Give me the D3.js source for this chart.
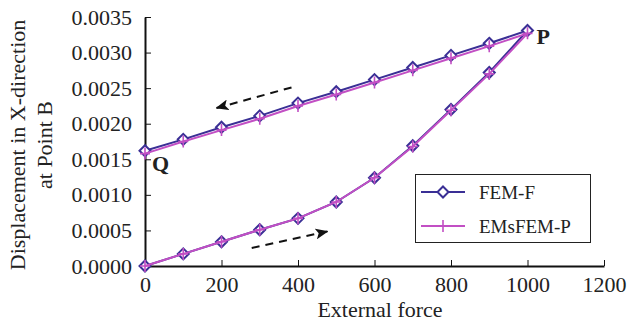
<!DOCTYPE html>
<html>
<head>
<meta charset="utf-8">
<script src="https://cdn.jsdelivr.net/npm/d3@7/dist/d3.min.js"></script>
<style>
  html, body { margin: 0; padding: 0; background: #fff; }
  svg text { font-family: "Liberation Serif", "DejaVu Serif", serif; fill: #222; }
</style>
</head>
<body>
<svg id="chart" width="627" height="323"></svg>
<script>
// External force steps: loading 0 -> 1000, then unloading 1000 -> 0
const forces = [0, 100, 200, 300, 400, 500, 600, 700, 800, 900, 1000,
                900, 800, 700, 600, 500, 400, 300, 200, 100, 0];

// Displacement in X-direction at point B
const femF = [0.0000, 0.00017, 0.00034, 0.00051, 0.00067, 0.00090, 0.00124, 0.00169, 0.00220, 0.00272, 0.00331,
              0.00313, 0.00296, 0.00279, 0.00262, 0.00245, 0.00229, 0.00211, 0.00195, 0.00178, 0.00162];
const emsfemP = [0.0000, 0.00017, 0.00034, 0.00051, 0.00067, 0.00090, 0.00124, 0.00168, 0.00219, 0.00270, 0.00327,
                 0.00309, 0.00292, 0.00275, 0.00258, 0.00241, 0.00225, 0.00207, 0.00191, 0.00175, 0.00158];

const xTicks = [0, 200, 400, 600, 800, 1000, 1200];
const yTicks = [0, 0.0005, 0.0010, 0.0015, 0.0020, 0.0025, 0.0030, 0.0035];

// Direction arrows: [x0, y0, x1, y1] in data units
const unloadArrow = [383, 0.00251, 187, 0.00222];
const loadArrow = [279, 0.000254, 477, 0.000487];

const svg = d3.select("#chart");
const plotLeft = 145, plotRight = 604, plotTop = 17, plotBottom = 266;

const x = d3.scaleLinear().domain([0, 1200]).range([plotLeft, plotRight]);
const y = d3.scaleLinear().domain([0, 0.0035]).range([plotBottom, plotTop]);

const BLUE = "#3a2f95";
const MAGENTA = "#c24fc4";
const AXIS_FONT = 22;

// Axes with inward ticks
const xAxis = svg.append("g").attr("transform", `translate(0,${plotBottom})`)
  .call(d3.axisBottom(x).tickValues(xTicks).tickSizeInner(-6).tickSizeOuter(0).tickPadding(10)
    .tickFormat(d3.format("d")));
const yAxis = svg.append("g").attr("transform", `translate(${plotLeft},0)`)
  .call(d3.axisLeft(y).tickValues(yTicks).tickSizeInner(-6).tickSizeOuter(0).tickPadding(13)
    .tickFormat(d3.format(".4f")));

[xAxis, yAxis].forEach(g => {
  g.select(".domain").attr("stroke", "#111").attr("stroke-width", 2);
  g.selectAll(".tick line").attr("stroke", "#111").attr("stroke-width", 1);
  g.selectAll(".tick text").attr("font-size", AXIS_FONT).attr("fill", "#222")
    .attr("font-family", "Liberation Serif, serif");
});

// Axis titles
svg.append("text").attr("x", 380).attr("y", 317).attr("text-anchor", "middle")
  .attr("font-size", AXIS_FONT).text("External force");
svg.append("text").attr("transform", "translate(25,145) rotate(-90)").attr("text-anchor", "middle")
  .attr("font-size", AXIS_FONT).text("Displacement in X-direction");
svg.append("text").attr("transform", "translate(52,145) rotate(-90)").attr("text-anchor", "middle")
  .attr("font-size", AXIS_FONT).text("at Point B");

// Arrow marker
const defs = svg.append("defs");
defs.append("marker").attr("id", "arrowHead")
  .attr("viewBox", "0 0 13 11").attr("refX", 12).attr("refY", 5.5)
  .attr("markerWidth", 13).attr("markerHeight", 11).attr("markerUnits", "userSpaceOnUse")
  .attr("orient", "auto")
  .append("path").attr("d", "M0,0 L13,5.5 L0,11 L3,5.5 Z").attr("fill", "#111");

[unloadArrow, loadArrow].forEach(a => {
  svg.append("line")
    .attr("x1", x(a[0])).attr("y1", y(a[1]))
    .attr("x2", x(a[2])).attr("y2", y(a[3]))
    .attr("stroke", "#111").attr("stroke-width", 2)
    .attr("stroke-dasharray", "8,6")
    .attr("marker-end", "url(#arrowHead)");
});

const pts = vals => forces.map((f, i) => [f, vals[i]]);
const line = d3.line().x(d => x(d[0])).y(d => y(d[1]));

// FEM-F: line with open diamonds
svg.append("path").datum(pts(femF)).attr("d", line)
  .attr("fill", "none").attr("stroke", BLUE).attr("stroke-width", 2);
const diamond = "M0,-5.5 L5.5,0 L0,5.5 L-5.5,0 Z";
svg.append("g").selectAll("path").data(pts(femF)).join("path")
  .attr("transform", d => `translate(${x(d[0])},${y(d[1])})`)
  .attr("d", diamond).attr("fill", "#fff").attr("stroke", BLUE).attr("stroke-width", 2);

// EMsFEM-P: line with plus markers
svg.append("path").datum(pts(emsfemP)).attr("d", line)
  .attr("fill", "none").attr("stroke", MAGENTA).attr("stroke-width", 2);
const plus = "M-5,0 L5,0 M0,-6 L0,6";
svg.append("g").selectAll("path").data(pts(emsfemP)).join("path")
  .attr("transform", d => `translate(${x(d[0])},${y(d[1])})`)
  .attr("d", plus).attr("fill", "none").attr("stroke", MAGENTA).attr("stroke-width", 1.6);

// Point labels
svg.append("text").attr("x", x(1000) + 9).attr("y", 44).attr("font-size", 22)
  .attr("font-weight", "bold").attr("fill", "#111").text("P");
svg.append("text").attr("x", plotLeft + 7).attr("y", 171).attr("font-size", 22)
  .attr("font-weight", "bold").attr("fill", "#111").text("Q");

// Legend
const lg = svg.append("g");
lg.append("rect").attr("x", 415.5).attr("y", 174.5).attr("width", 175).attr("height", 68)
  .attr("fill", "#fff").attr("stroke", "#222").attr("stroke-width", 1);
const entries = [
  { name: "FEM-F", color: BLUE, mark: diamond, fill: "#fff", sw: 2, ly: 192 },
  { name: "EMsFEM-P", color: MAGENTA, mark: plus, fill: "none", sw: 1.6, ly: 226 }
];
entries.forEach(e => {
  lg.append("line").attr("x1", 421).attr("x2", 465).attr("y1", e.ly).attr("y2", e.ly)
    .attr("stroke", e.color).attr("stroke-width", 2);
  lg.append("path").attr("transform", `translate(443,${e.ly})`).attr("d", e.mark)
    .attr("fill", e.fill).attr("stroke", e.color).attr("stroke-width", e.sw);
  lg.append("text").attr("x", 479).attr("y", e.ly + 7).attr("font-size", 19).text(e.name);
});
</script>
</body>
</html>
